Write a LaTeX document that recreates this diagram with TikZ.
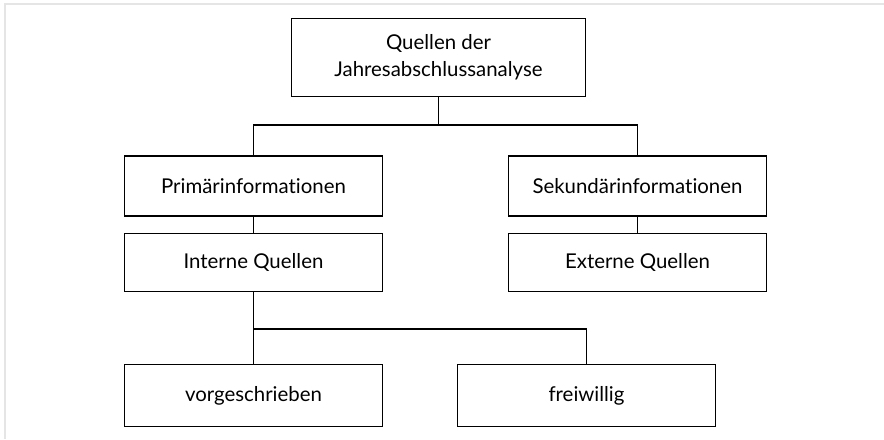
\documentclass[tikz,border=0pt]{standalone}
\usepackage{fontspec}
\setmainfont{Lato}[Ligatures={NoCommon,NoRare,NoDiscretionary}]
\tikzset{
	box/.style={draw,line width=0.8pt,minimum width=194pt,minimum height=45pt,inner sep=0pt,align=center,font=\fontsize{15.3}{20}\selectfont},
	wire/.style={line width=0.8pt}
}

\begin{document}
\begin{tikzpicture}[x=0.75pt,y=-0.75pt]
	\useasboundingbox(0,0)rectangle(884,439);
	\draw[line width=2pt,gray!20](5,439)--(5,4)--(884,4);
	
	\node[box,minimum width=221pt,minimum height=58pt] at (438.5,57.5)(quellen){Quellen der\\Jahresabschlussanalyse};
	\node[box] at (253.5,186)(primaer){Primärinformationen};
	\node[box] at (637.5,186)(sekundaer){Sekundärinformationen};
	\node[box,minimum height=44pt] at (253.5,262.5)(intern){Interne Quellen};
	\node[box,minimum height=44pt] at (637.5,262.5)(extern){Externe Quellen};
	\node[box,minimum height=46pt] at (253.5,395.5)(vorg){vorgeschrieben};
	\node[box,minimum height=46pt] at (586.5,395.5)(frei){freiwillig};
	
	\coordinate (split1) at (438.5,125);
	\coordinate (split2) at (253.5,329);
	\draw[wire](quellen)--(split1)-|(primaer.north);
	\draw[wire](split1)-|(sekundaer.north);
	\path[wire](primaer)edge(intern)(sekundaer)edge(extern);
	\draw[wire](intern)--(split2)-|(frei.north);
	\draw[wire](split2)--(vorg);
\end{tikzpicture}
\end{document}
